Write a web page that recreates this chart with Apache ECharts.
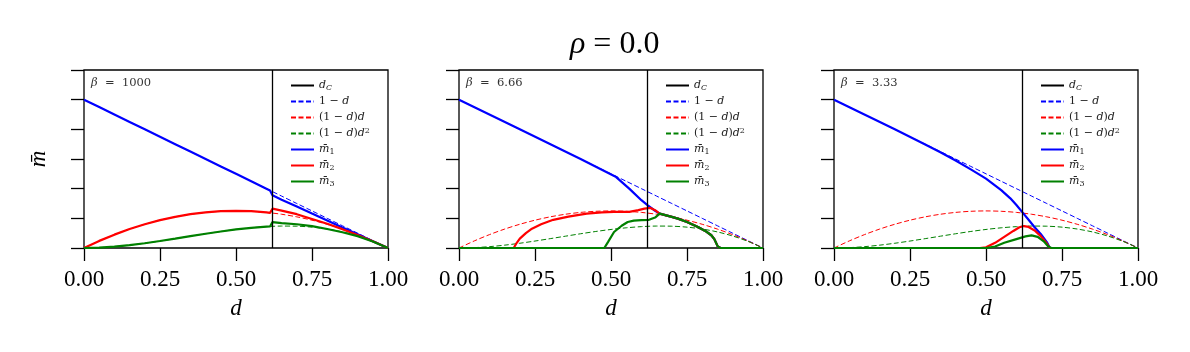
<!DOCTYPE html>
<html>
<head>
<meta charset="utf-8">
<script src="https://cdn.jsdelivr.net/npm/echarts@6/dist/echarts.min.js"></script>
<style>
  body { margin: 0; background: #fff; }
  #chart-container { width: 1190px; height: 352px; }
</style>
</head>
<body>
<div id="chart-container"></div>
<script>
// 臨界值與 beta
const dC = 0.618;
const betaLabels = ['1000', '6.66', '3.33'];

// 虛線參考曲線 1-d, (1-d)d, (1-d)d^2
const dGrid = [0, 0.05, 0.1, 0.15, 0.2, 0.25, 0.3, 0.35, 0.4, 0.45, 0.5, 0.55, 0.6, 0.65, 0.7, 0.75, 0.8, 0.85, 0.9, 0.95, 1];
const refLin = [1, 0.95, 0.9, 0.85, 0.8, 0.75, 0.7, 0.65, 0.6, 0.55, 0.5, 0.45, 0.4, 0.35, 0.3, 0.25, 0.2, 0.15, 0.1, 0.05, 0];
const refQuad = [0, 0.0475, 0.09, 0.1275, 0.16, 0.1875, 0.21, 0.2275, 0.24, 0.2475, 0.25, 0.2475, 0.24, 0.2275, 0.21, 0.1875, 0.16, 0.1275, 0.09, 0.0475, 0];
const refCub = [0, 0.0024, 0.009, 0.0191, 0.032, 0.0469, 0.063, 0.0796, 0.096, 0.1114, 0.125, 0.1361, 0.144, 0.1479, 0.147, 0.1406, 0.128, 0.1084, 0.081, 0.0451, 0];

// beta = 1000
const p1D = [0, 0.05, 0.1, 0.15, 0.2, 0.25, 0.3, 0.35, 0.4, 0.45, 0.5, 0.55, 0.6, 0.612, 0.62, 0.65, 0.7, 0.75, 0.8, 0.85, 0.9, 0.95, 1];
const p1M1 = [1, 0.95, 0.9, 0.85, 0.8, 0.75, 0.7, 0.65, 0.6, 0.55, 0.5, 0.45, 0.4, 0.388, 0.355, 0.325, 0.279, 0.232, 0.186, 0.139, 0.093, 0.046, 0];
const p1M2 = [0, 0.048, 0.09, 0.128, 0.16, 0.188, 0.21, 0.228, 0.24, 0.248, 0.25, 0.248, 0.24, 0.237, 0.265, 0.252, 0.228, 0.196, 0.163, 0.127, 0.088, 0.046, 0];
const p1M3 = [0, 0.002, 0.009, 0.019, 0.032, 0.047, 0.063, 0.08, 0.096, 0.111, 0.125, 0.136, 0.144, 0.145, 0.175, 0.168, 0.16, 0.147, 0.128, 0.106, 0.08, 0.044, 0];

// beta = 6.66
const p2M1D = [0, 0.2, 0.4, 0.517, 0.56, 0.6, 0.621, 0.64, 0.66, 0.7, 0.72, 0.75, 0.786, 0.81, 0.83, 0.84, 0.851, 0.86, 1];
const p2M1 = [1, 0.8, 0.6, 0.478, 0.4, 0.322, 0.288, 0.258, 0.232, 0.21, 0.198, 0.175, 0.142, 0.115, 0.086, 0.06, 0.011, 0, 0];
const p2M2D = [0, 0.18, 0.19, 0.2, 0.22, 0.24, 0.27, 0.31, 0.36, 0.42, 0.47, 0.51, 0.56, 0.59, 0.61, 0.63, 0.645, 0.66, 0.7, 0.72, 0.75, 0.786, 0.81, 0.83, 0.84, 0.851, 0.86, 1];
const p2M2 = [0, 0, 0.035, 0.063, 0.1, 0.13, 0.16, 0.19, 0.212, 0.232, 0.24, 0.243, 0.244, 0.255, 0.265, 0.27, 0.255, 0.232, 0.21, 0.198, 0.175, 0.142, 0.115, 0.086, 0.06, 0.011, 0, 0];
const p2M3D = [0, 0.478, 0.49, 0.51, 0.535, 0.555, 0.575, 0.6, 0.625, 0.645, 0.66, 0.7, 0.72, 0.75, 0.786, 0.81, 0.83, 0.84, 0.851, 0.86, 1];
const p2M3 = [0, 0, 0.04, 0.108, 0.15, 0.175, 0.185, 0.188, 0.19, 0.205, 0.232, 0.21, 0.198, 0.175, 0.142, 0.115, 0.086, 0.06, 0.011, 0, 0];

// beta = 3.33
const p3M1D = [0, 0.1, 0.2, 0.3, 0.35, 0.4, 0.45, 0.5, 0.55, 0.58, 0.6, 0.62, 0.64, 0.66, 0.68, 0.7, 0.71, 1];
const p3M1 = [1, 0.9, 0.8, 0.698, 0.645, 0.59, 0.53, 0.468, 0.39, 0.335, 0.29, 0.24, 0.19, 0.14, 0.095, 0.04, 0, 0];
const p3M2D = [0, 0.48, 0.5, 0.53, 0.56, 0.59, 0.61, 0.625, 0.64, 0.66, 0.68, 0.7, 0.71, 1];
const p3M2 = [0, 0, 0.005, 0.035, 0.075, 0.115, 0.14, 0.148, 0.142, 0.118, 0.08, 0.03, 0, 0];
const p3M3D = [0, 0.5, 0.53, 0.56, 0.6, 0.63, 0.65, 0.67, 0.69, 0.705, 0.715, 1];
const p3M3 = [0, 0, 0.01, 0.035, 0.06, 0.078, 0.085, 0.075, 0.045, 0.01, 0, 0];

const panels = [
  { m1: [p1D, p1M1], m2: [p1D, p1M2], m3: [p1D, p1M3] },
  { m1: [p2M1D, p2M1], m2: [p2M2D, p2M2], m3: [p2M3D, p2M3] },
  { m1: [p3M1D, p3M1], m2: [p3M2D, p3M2], m3: [p3M3D, p3M3] }
];

const legendNames = ['dC', '1-d', '(1-d)d', '(1-d)d2', 'm1', 'm2', 'm3'];
const legendText = {
  'dC': '{i|d}{si|C}',
  '1-d': '1 − {i|d}',
  '(1-d)d': '(1 − {i|d}){i|d}',
  '(1-d)d2': '(1 − {i|d}){i|d}{sup|2}',
  'm1': '{i|m̄}{sub|1}',
  'm2': '{i|m̄}{sub|2}',
  'm3': '{i|m̄}{sub|3}'
};

function pairs(xs, ys) {
  return xs.map((x, i) => [x, ys[i]]);
}

function renderECharts() {
  var dom = document.getElementById('chart-container');
  var myChart = echarts.init(dom, null, { renderer: 'canvas' });

  const serif = 'Liberation Serif';
  const small = 'DejaVu Serif';
  const gridLeft = [84, 459, 834];

  let grids = [], xAxes = [], yAxes = [], series = [], legends = [];
  let titles = [{
    text: '{i|ρ} = 0.0',
    left: 565,
    top: 24,
    textStyle: {
      fontFamily: serif, fontSize: 32, fontWeight: 'normal', color: '#000',
      rich: { i: { fontFamily: serif, fontSize: 32, fontStyle: 'italic', fontWeight: 'normal', color: '#000' } }
    }
  }];

  gridLeft.forEach((left, k) => {
    grids.push({
      left: left, top: 70, width: 304, height: 178,
      show: true, borderColor: '#000', borderWidth: 1.3, backgroundColor: 'transparent'
    });
    xAxes.push({
      type: 'value', gridIndex: k, min: 0, max: 1, interval: 0.25,
      name: 'd', nameLocation: 'middle', nameGap: 49,
      nameTextStyle: { fontFamily: serif, fontSize: 23, fontStyle: 'italic', color: '#000' },
      axisLine: { show: false },
      axisTick: { show: true, length: 13, lineStyle: { color: '#000', width: 1.3 } },
      splitLine: { show: false },
      axisLabel: {
        margin: 20, fontFamily: serif, fontSize: 23, color: '#000',
        formatter: v => v.toFixed(2)
      }
    });
    yAxes.push({
      type: 'value', gridIndex: k, min: 0, max: 1.2, interval: 0.2,
      name: k === 0 ? 'm̄' : '', nameLocation: 'middle', nameGap: 34, nameRotate: 90,
      nameTextStyle: { fontFamily: serif, fontSize: 23, fontStyle: 'italic', color: '#000' },
      axisLine: { show: false },
      axisTick: { show: true, length: 13, lineStyle: { color: '#000', width: 1.3 } },
      splitLine: { show: false },
      axisLabel: { show: false }
    });
    titles.push({
      text: '{i|β}  =  ' + betaLabels[k],
      left: left + 2, top: 72,
      textStyle: {
        fontFamily: small, fontSize: 11.5, fontWeight: 'normal', color: '#333',
        rich: { i: { fontFamily: small, fontSize: 11.5, fontStyle: 'italic', color: '#333' } }
      }
    });
    legends.push({
      data: legendNames,
      orient: 'vertical',
      left: left + 206, top: 79,
      padding: 0, itemGap: 3, itemWidth: 23, itemHeight: 13,
      selectedMode: false,
      itemStyle: { opacity: 0 },
      formatter: name => legendText[name],
      textStyle: {
        fontFamily: small, fontSize: 11, color: '#222', lineHeight: 13,
        rich: {
          i: { fontFamily: small, fontSize: 11, fontStyle: 'italic', color: '#222', lineHeight: 13 },
          si: { fontFamily: small, fontSize: 8, fontStyle: 'italic', color: '#222', lineHeight: 8, verticalAlign: 'bottom' },
          sub: { fontFamily: small, fontSize: 8, color: '#222', lineHeight: 8, verticalAlign: 'bottom' },
          sup: { fontFamily: small, fontSize: 8, color: '#222', lineHeight: 8, verticalAlign: 'top' }
        }
      }
    });

    // d_C 垂直線
    series.push({
      name: 'dC', type: 'line', xAxisIndex: k, yAxisIndex: k, data: [],
      color: '#000', symbol: 'none', lineStyle: { color: '#000', width: 1.3 },
      markLine: {
        silent: true, symbol: 'none', label: { show: false },
        lineStyle: { color: '#000', width: 1.3, type: 'solid' },
        data: [{ xAxis: dC }]
      }
    });
    const refs = [['1-d', refLin, '#0000ff'], ['(1-d)d', refQuad, '#ff0000'], ['(1-d)d2', refCub, '#008000']];
    refs.forEach(r => {
      series.push({
        name: r[0], type: 'line', xAxisIndex: k, yAxisIndex: k,
        data: pairs(dGrid, r[1]), smooth: 0.3, symbol: 'none', color: r[2],
        lineStyle: { color: r[2], width: 1, type: [5, 2.5] }
      });
    });
    const sols = [['m1', panels[k].m1, '#0000ff'], ['m2', panels[k].m2, '#ff0000'], ['m3', panels[k].m3, '#008000']];
    sols.forEach(s => {
      series.push({
        name: s[0], type: 'line', xAxisIndex: k, yAxisIndex: k,
        data: pairs(s[1][0], s[1][1]), symbol: 'none', color: s[2],
        lineStyle: { color: s[2], width: 2.2 }
      });
    });
  });

  var option = {
    animation: false,
    backgroundColor: '#fff',
    title: titles,
    legend: legends,
    grid: grids,
    xAxis: xAxes,
    yAxis: yAxes,
    series: series
  };

  myChart.setOption(option);
  window.addEventListener('resize', myChart.resize);
}
renderECharts();
</script>
</body>
</html>
